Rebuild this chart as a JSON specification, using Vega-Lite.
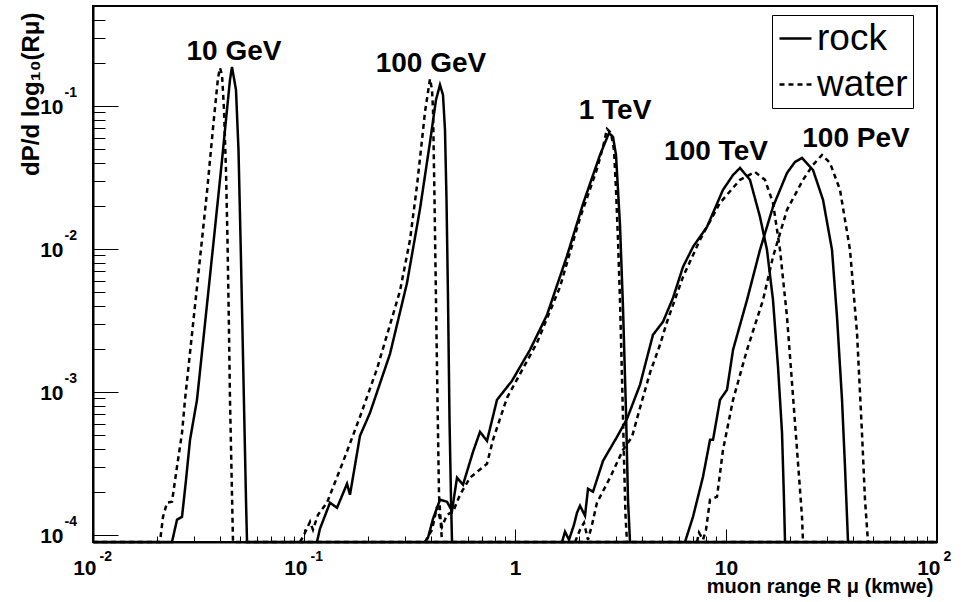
{
  "$schema": "https://vega.github.io/schema/vega-lite/v6.json",
  "width": 844,
  "height": 536,
  "autosize": {"type": "none"},
  "padding": {"left": 93, "top": 6, "right": 30, "bottom": 60},
  "background": "white",
  "datasets": {
    "curves": [
      {"energy":"10 GeV","medium":"rock","range":0.01,"dP":8.9e-5},
      {"energy":"10 GeV","medium":"rock","range":0.02368,"dP":8.9e-5},
      {"energy":"10 GeV","medium":"rock","range":0.02501,"dP":1.274e-4},
      {"energy":"10 GeV","medium":"rock","range":0.02642,"dP":1.336e-4},
      {"energy":"10 GeV","medium":"rock","range":0.0276,"dP":2.427e-4},
      {"energy":"10 GeV","medium":"rock","range":0.02883,"dP":4.613e-4},
      {"energy":"10 GeV","medium":"rock","range":0.03111,"dP":8.79e-4},
      {"energy":"10 GeV","medium":"rock","range":0.03508,"dP":4.764e-3},
      {"energy":"10 GeV","medium":"rock","range":0.03787,"dP":0.01403},
      {"energy":"10 GeV","medium":"rock","range":0.04088,"dP":0.04188},
      {"energy":"10 GeV","medium":"rock","range":0.04315,"dP":0.0938},
      {"energy":"10 GeV","medium":"rock","range":0.04459,"dP":0.1521},
      {"energy":"10 GeV","medium":"rock","range":0.04558,"dP":0.1875},
      {"energy":"10 GeV","medium":"rock","range":0.04761,"dP":0.1294},
      {"energy":"10 GeV","medium":"rock","range":0.04893,"dP":0.0492},
      {"energy":"10 GeV","medium":"rock","range":0.05028,"dP":8.375e-3},
      {"energy":"10 GeV","medium":"rock","range":0.05167,"dP":1.213e-3},
      {"energy":"10 GeV","medium":"rock","range":0.0531,"dP":1.758e-4},
      {"energy":"10 GeV","medium":"rock","range":0.0537,"dP":8.9e-5},
      {"energy":"10 GeV","medium":"rock","range":100,"dP":8.9e-5},

      {"energy":"10 GeV","medium":"water","range":0.01,"dP":8.9e-5},
      {"energy":"10 GeV","medium":"water","range":0.02077,"dP":8.9e-5},
      {"energy":"10 GeV","medium":"water","range":0.02147,"dP":1.336e-4},
      {"energy":"10 GeV","medium":"water","range":0.02243,"dP":1.675e-4},
      {"energy":"10 GeV","medium":"water","range":0.02368,"dP":1.702e-4},
      {"energy":"10 GeV","medium":"water","range":0.02501,"dP":2.992e-4},
      {"energy":"10 GeV","medium":"water","range":0.02642,"dP":5.164e-4},
      {"energy":"10 GeV","medium":"water","range":0.02729,"dP":8.79e-4},
      {"energy":"10 GeV","medium":"water","range":0.03111,"dP":5.42e-3},
      {"energy":"10 GeV","medium":"water","range":0.0347,"dP":0.02506},
      {"energy":"10 GeV","medium":"water","range":0.03705,"dP":0.07015},
      {"energy":"10 GeV","medium":"water","range":0.03828,"dP":0.1138},
      {"energy":"10 GeV","medium":"water","range":0.03912,"dP":0.157},
      {"energy":"10 GeV","medium":"water","range":0.03999,"dP":0.1845},
      {"energy":"10 GeV","medium":"water","range":0.04088,"dP":0.1648},
      {"energy":"10 GeV","medium":"water","range":0.04178,"dP":0.0938},
      {"energy":"10 GeV","medium":"water","range":0.04268,"dP":0.03565},
      {"energy":"10 GeV","medium":"water","range":0.04339,"dP":0.01156},
      {"energy":"10 GeV","medium":"water","range":0.0441,"dP":2.716e-3},
      {"energy":"10 GeV","medium":"water","range":0.04459,"dP":8.79e-4},
      {"energy":"10 GeV","medium":"water","range":0.04532,"dP":2.851e-4},
      {"energy":"10 GeV","medium":"water","range":0.04608,"dP":8.9e-5},
      {"energy":"10 GeV","medium":"water","range":100,"dP":8.9e-5},

      {"energy":"100 GeV","medium":"rock","range":0.1152,"dP":8.9e-5},
      {"energy":"100 GeV","medium":"rock","range":0.119,"dP":1.101e-4},
      {"energy":"100 GeV","medium":"rock","range":0.1328,"dP":1.675e-4},
      {"energy":"100 GeV","medium":"rock","range":0.1434,"dP":1.545e-4},
      {"energy":"100 GeV","medium":"rock","range":0.1599,"dP":2.275e-4},
      {"energy":"100 GeV","medium":"rock","range":0.1652,"dP":1.905e-4},
      {"energy":"100 GeV","medium":"rock","range":0.1842,"dP":4.92e-4},
      {"energy":"100 GeV","medium":"rock","range":0.2055,"dP":7.129e-4},
      {"energy":"100 GeV","medium":"rock","range":0.2557,"dP":1.845e-3},
      {"energy":"100 GeV","medium":"rock","range":0.3078,"dP":5.781e-3},
      {"energy":"100 GeV","medium":"rock","range":0.3547,"dP":0.01905},
      {"energy":"100 GeV","medium":"rock","range":0.3956,"dP":0.05598},
      {"energy":"100 GeV","medium":"rock","range":0.4222,"dP":0.1102},
      {"energy":"100 GeV","medium":"rock","range":0.441,"dP":0.1403},
      {"energy":"100 GeV","medium":"rock","range":0.4558,"dP":0.1194},
      {"energy":"100 GeV","medium":"rock","range":0.4658,"dP":0.06792},
      {"energy":"100 GeV","medium":"rock","range":0.4736,"dP":0.02203},
      {"energy":"100 GeV","medium":"rock","range":0.4815,"dP":4.395e-3},
      {"energy":"100 GeV","medium":"rock","range":0.4894,"dP":6.368e-4},
      {"energy":"100 GeV","medium":"rock","range":0.4975,"dP":1.758e-4},
      {"energy":"100 GeV","medium":"rock","range":0.5029,"dP":8.9e-5},

      {"energy":"100 GeV","medium":"water","range":0.09572,"dP":8.9e-5},
      {"energy":"100 GeV","medium":"water","range":0.1,"dP":1.0e-4},
      {"energy":"100 GeV","medium":"water","range":0.1068,"dP":1.233e-4},
      {"energy":"100 GeV","medium":"water","range":0.1103,"dP":1.084e-4},
      {"energy":"100 GeV","medium":"water","range":0.1165,"dP":1.38e-4},
      {"energy":"100 GeV","medium":"water","range":0.1285,"dP":1.675e-4},
      {"energy":"100 GeV","medium":"water","range":0.1531,"dP":3.236e-4},
      {"energy":"100 GeV","medium":"water","range":0.1842,"dP":6.683e-4},
      {"energy":"100 GeV","medium":"water","range":0.2218,"dP":1.449e-3},
      {"energy":"100 GeV","medium":"water","range":0.2851,"dP":5.082e-3},
      {"energy":"100 GeV","medium":"water","range":0.318,"dP":0.01156},
      {"energy":"100 GeV","medium":"water","range":0.3431,"dP":0.02761},
      {"energy":"100 GeV","medium":"water","range":0.3624,"dP":0.05781},
      {"energy":"100 GeV","medium":"water","range":0.3745,"dP":0.09078},
      {"energy":"100 GeV","medium":"water","range":0.3956,"dP":0.1545},
      {"energy":"100 GeV","medium":"water","range":0.4043,"dP":0.1294},
      {"energy":"100 GeV","medium":"water","range":0.4088,"dP":0.0938},
      {"energy":"100 GeV","medium":"water","range":0.4155,"dP":0.02203},
      {"energy":"100 GeV","medium":"water","range":0.4222,"dP":4.395e-3},
      {"energy":"100 GeV","medium":"water","range":0.4292,"dP":8.79e-4},
      {"energy":"100 GeV","medium":"water","range":0.4363,"dP":1.905e-4},
      {"energy":"100 GeV","medium":"water","range":0.4508,"dP":8.9e-5},

      {"energy":"1 TeV","medium":"rock","range":0.3745,"dP":8.9e-5},
      {"energy":"1 TeV","medium":"rock","range":0.387,"dP":9.53e-5},
      {"energy":"1 TeV","medium":"rock","range":0.4088,"dP":1.294e-4},
      {"energy":"1 TeV","medium":"rock","range":0.441,"dP":1.758e-4},
      {"energy":"1 TeV","medium":"rock","range":0.4761,"dP":1.702e-4},
      {"energy":"1 TeV","medium":"rock","range":0.5029,"dP":1.472e-4},
      {"energy":"1 TeV","medium":"rock","range":0.531,"dP":2.506e-4},
      {"energy":"1 TeV","medium":"rock","range":0.567,"dP":2.239e-4},
      {"energy":"1 TeV","medium":"rock","range":0.6324,"dP":3.802e-4},
      {"energy":"1 TeV","medium":"rock","range":0.6826,"dP":5.248e-4},
      {"energy":"1 TeV","medium":"rock","range":0.7367,"dP":4.539e-4},
      {"energy":"1 TeV","medium":"rock","range":0.8217,"dP":8.79e-4},
      {"energy":"1 TeV","medium":"rock","range":0.9678,"dP":1.194e-3},
      {"energy":"1 TeV","medium":"rock","range":1.178,"dP":1.968e-3},
      {"energy":"1 TeV","medium":"rock","range":1.418,"dP":3.451e-3},
      {"energy":"1 TeV","medium":"rock","range":1.764,"dP":8.93e-3},
      {"energy":"1 TeV","medium":"rock","range":2.101,"dP":0.02065},
      {"energy":"1 TeV","medium":"rock","range":2.528,"dP":0.04539},
      {"energy":"1 TeV","medium":"rock","range":2.79,"dP":0.06471},
      {"energy":"1 TeV","medium":"rock","range":2.914,"dP":0.06067},
      {"energy":"1 TeV","medium":"rock","range":3.011,"dP":0.04539},
      {"energy":"1 TeV","medium":"rock","range":3.077,"dP":0.02588},
      {"energy":"1 TeV","medium":"rock","range":3.145,"dP":0.01472},
      {"energy":"1 TeV","medium":"rock","range":3.25,"dP":3.864e-3},
      {"energy":"1 TeV","medium":"rock","range":3.358,"dP":7.244e-4},
      {"energy":"1 TeV","medium":"rock","range":3.432,"dP":1.758e-4},
      {"energy":"1 TeV","medium":"rock","range":3.508,"dP":8.9e-5},

      {"energy":"1 TeV","medium":"water","range":0.3745,"dP":8.9e-5},
      {"energy":"1 TeV","medium":"water","range":0.4043,"dP":1.084e-4},
      {"energy":"1 TeV","medium":"water","range":0.4269,"dP":1.57e-4},
      {"energy":"1 TeV","medium":"water","range":0.4508,"dP":1.138e-4},
      {"energy":"1 TeV","medium":"water","range":0.4761,"dP":1.38e-4},
      {"energy":"1 TeV","medium":"water","range":0.5085,"dP":1.449e-4},
      {"energy":"1 TeV","medium":"water","range":0.5487,"dP":1.905e-4},
      {"energy":"1 TeV","medium":"water","range":0.612,"dP":2.506e-4},
      {"energy":"1 TeV","medium":"water","range":0.7367,"dP":3.141e-4},
      {"energy":"1 TeV","medium":"water","range":0.7866,"dP":4.613e-4},
      {"energy":"1 TeV","medium":"water","range":0.9165,"dP":9.08e-4},
      {"energy":"1 TeV","medium":"water","range":1.271,"dP":2.203e-3},
      {"energy":"1 TeV","medium":"water","range":1.634,"dP":5.42e-3},
      {"energy":"1 TeV","medium":"water","range":2.033,"dP":0.01648},
      {"energy":"1 TeV","medium":"water","range":2.446,"dP":0.03624},
      {"energy":"1 TeV","medium":"water","range":2.613,"dP":0.05164},
      {"energy":"1 TeV","medium":"water","range":2.729,"dP":0.06902},
      {"energy":"1 TeV","medium":"water","range":2.851,"dP":0.06471},
      {"energy":"1 TeV","medium":"water","range":2.946,"dP":0.0492},
      {"energy":"1 TeV","medium":"water","range":3.011,"dP":0.02588},
      {"energy":"1 TeV","medium":"water","range":3.077,"dP":0.01156},
      {"energy":"1 TeV","medium":"water","range":3.145,"dP":4.395e-3},
      {"energy":"1 TeV","medium":"water","range":3.215,"dP":1.253e-3},
      {"energy":"1 TeV","medium":"water","range":3.286,"dP":3.342e-4},
      {"energy":"1 TeV","medium":"water","range":3.34,"dP":1.358e-4},
      {"energy":"1 TeV","medium":"water","range":3.395,"dP":8.9e-5},

      {"energy":"100 TeV","medium":"rock","range":1.67,"dP":8.9e-5},
      {"energy":"100 TeV","medium":"rock","range":1.726,"dP":1.05e-4},
      {"energy":"100 TeV","medium":"rock","range":1.803,"dP":9.23e-5},
      {"energy":"100 TeV","medium":"rock","range":1.904,"dP":1.175e-4},
      {"energy":"100 TeV","medium":"rock","range":1.967,"dP":1.426e-4},
      {"energy":"100 TeV","medium":"rock","range":2.033,"dP":1.596e-4},
      {"energy":"100 TeV","medium":"rock","range":2.147,"dP":1.358e-4},
      {"energy":"100 TeV","medium":"rock","range":2.218,"dP":2.099e-4},
      {"energy":"100 TeV","medium":"rock","range":2.343,"dP":2.0e-4},
      {"energy":"100 TeV","medium":"rock","range":2.613,"dP":3.289e-4},
      {"energy":"100 TeV","medium":"rock","range":3.044,"dP":4.842e-4},
      {"energy":"100 TeV","medium":"rock","range":3.395,"dP":6.471e-4},
      {"energy":"100 TeV","medium":"rock","range":3.912,"dP":1.119e-3},
      {"energy":"100 TeV","medium":"rock","range":4.222,"dP":1.73e-3},
      {"energy":"100 TeV","medium":"rock","range":4.508,"dP":2.506e-3},
      {"energy":"100 TeV","medium":"rock","range":5.028,"dP":3.09e-3},
      {"energy":"100 TeV","medium":"rock","range":5.609,"dP":4.539e-3},
      {"energy":"100 TeV","medium":"rock","range":6.255,"dP":7.482e-3},
      {"energy":"100 TeV","medium":"rock","range":6.977,"dP":0.01033},
      {"energy":"100 TeV","medium":"rock","range":8.128,"dP":0.01426},
      {"energy":"100 TeV","medium":"rock","range":9.678,"dP":0.02588},
      {"energy":"100 TeV","medium":"rock","range":10.8,"dP":0.03289},
      {"energy":"100 TeV","medium":"rock","range":11.65,"dP":0.03681},
      {"energy":"100 TeV","medium":"rock","range":12.99,"dP":0.03041},
      {"energy":"100 TeV","medium":"rock","range":14.49,"dP":0.01675},
      {"energy":"100 TeV","medium":"rock","range":15.64,"dP":9.84e-3},
      {"energy":"100 TeV","medium":"rock","range":16.7,"dP":4.395e-3},
      {"energy":"100 TeV","medium":"rock","range":17.64,"dP":1.496e-3},
      {"energy":"100 TeV","medium":"rock","range":18.43,"dP":5.164e-4},
      {"energy":"100 TeV","medium":"rock","range":18.83,"dP":1.758e-4},
      {"energy":"100 TeV","medium":"rock","range":19.04,"dP":8.9e-5},

      {"energy":"100 TeV","medium":"water","range":1.925,"dP":8.9e-5},
      {"energy":"100 TeV","medium":"water","range":2.033,"dP":1.084e-4},
      {"energy":"100 TeV","medium":"water","range":2.123,"dP":1.213e-4},
      {"energy":"100 TeV","medium":"water","range":2.218,"dP":9.23e-5},
      {"energy":"100 TeV","medium":"water","range":2.317,"dP":1.175e-4},
      {"energy":"100 TeV","medium":"water","range":2.446,"dP":1.675e-4},
      {"energy":"100 TeV","medium":"water","range":2.82,"dP":2.506e-4},
      {"energy":"100 TeV","medium":"water","range":3.25,"dP":3.926e-4},
      {"energy":"100 TeV","medium":"water","range":3.585,"dP":4.842e-4},
      {"energy":"100 TeV","medium":"water","range":3.912,"dP":7.727e-4},
      {"energy":"100 TeV","medium":"water","range":4.363,"dP":1.358e-3},
      {"energy":"100 TeV","medium":"water","range":4.866,"dP":2.133e-3},
      {"energy":"100 TeV","medium":"water","range":5.253,"dP":3.09e-3},
      {"energy":"100 TeV","medium":"water","range":6.255,"dP":6.368e-3},
      {"energy":"100 TeV","medium":"water","range":7.53,"dP":0.01156},
      {"energy":"100 TeV","medium":"water","range":9.368,"dP":0.02099},
      {"energy":"100 TeV","medium":"water","range":11.65,"dP":0.03041},
      {"energy":"100 TeV","medium":"water","range":13.72,"dP":0.03451},
      {"energy":"100 TeV","medium":"water","range":15.3,"dP":0.03041},
      {"energy":"100 TeV","medium":"water","range":16.7,"dP":0.02099},
      {"energy":"100 TeV","medium":"water","range":18.03,"dP":9.84e-3},
      {"energy":"100 TeV","medium":"water","range":19.46,"dP":3.342e-3},
      {"energy":"100 TeV","medium":"water","range":20.55,"dP":1.156e-3},
      {"energy":"100 TeV","medium":"water","range":21.71,"dP":3.926e-4},
      {"energy":"100 TeV","medium":"water","range":22.92,"dP":1.336e-4},
      {"energy":"100 TeV","medium":"water","range":23.17,"dP":8.9e-5},

      {"energy":"100 PeV","medium":"rock","range":6.393,"dP":8.9e-5},
      {"energy":"100 PeV","medium":"rock","range":6.977,"dP":1.336e-4},
      {"energy":"100 PeV","medium":"rock","range":7.78,"dP":2.547e-4},
      {"energy":"100 PeV","medium":"rock","range":8.4,"dP":4.613e-4},
      {"energy":"100 PeV","medium":"rock","range":8.679,"dP":4.613e-4},
      {"energy":"100 PeV","medium":"rock","range":9.368,"dP":8.79e-4},
      {"energy":"100 PeV","medium":"rock","range":10.11,"dP":1.033e-3},
      {"energy":"100 PeV","medium":"rock","range":10.8,"dP":1.968e-3},
      {"energy":"100 PeV","medium":"rock","range":12.58,"dP":4.395e-3},
      {"energy":"100 PeV","medium":"rock","range":14.49,"dP":9.84e-3},
      {"energy":"100 PeV","medium":"rock","range":16.7,"dP":0.01968},
      {"energy":"100 PeV","medium":"rock","range":19.46,"dP":0.03396},
      {"energy":"100 PeV","medium":"rock","range":21.23,"dP":0.04055},
      {"energy":"100 PeV","medium":"rock","range":22.92,"dP":0.04325},
      {"energy":"100 PeV","medium":"rock","range":25.84,"dP":0.03565},
      {"energy":"100 PeV","medium":"rock","range":28.83,"dP":0.02203},
      {"energy":"100 PeV","medium":"rock","range":31.8,"dP":9.84e-3},
      {"energy":"100 PeV","medium":"rock","range":33.58,"dP":3.342e-3},
      {"energy":"100 PeV","medium":"rock","range":35.47,"dP":8.79e-4},
      {"energy":"100 PeV","medium":"rock","range":36.64,"dP":2.992e-4},
      {"energy":"100 PeV","medium":"rock","range":37.87,"dP":8.9e-5},

      {"energy":"100 PeV","medium":"water","range":7.288,"dP":8.9e-5},
      {"energy":"100 PeV","medium":"water","range":7.447,"dP":1.033e-4},
      {"energy":"100 PeV","medium":"water","range":7.78,"dP":9.23e-5},
      {"energy":"100 PeV","medium":"water","range":8.039,"dP":1.084e-4},
      {"energy":"100 PeV","medium":"water","range":8.4,"dP":1.758e-4},
      {"energy":"100 PeV","medium":"water","range":9.066,"dP":1.845e-4},
      {"energy":"100 PeV","medium":"water","range":9.678,"dP":3.926e-4},
      {"energy":"100 PeV","medium":"water","range":10.8,"dP":8.79e-4},
      {"energy":"100 PeV","medium":"water","range":12.58,"dP":1.968e-3},
      {"energy":"100 PeV","medium":"water","range":14.98,"dP":4.395e-3},
      {"energy":"100 PeV","medium":"water","range":16.7,"dP":8.79e-3},
      {"energy":"100 PeV","medium":"water","range":19.46,"dP":0.01875},
      {"energy":"100 PeV","medium":"water","range":23.17,"dP":0.03041},
      {"energy":"100 PeV","medium":"water","range":25.84,"dP":0.03864},
      {"energy":"100 PeV","medium":"water","range":28.51,"dP":0.04539},
      {"energy":"100 PeV","medium":"water","range":31.11,"dP":0.0399},
      {"energy":"100 PeV","medium":"water","range":34.7,"dP":0.02588},
      {"energy":"100 PeV","medium":"water","range":38.7,"dP":9.84e-3},
      {"energy":"100 PeV","medium":"water","range":41.77,"dP":2.588e-3},
      {"energy":"100 PeV","medium":"water","range":44.1,"dP":5.164e-4},
      {"energy":"100 PeV","medium":"water","range":45.58,"dP":1.758e-4},
      {"energy":"100 PeV","medium":"water","range":47.1,"dP":8.9e-5}
    ],
    "labels": [
      {"label":"10 GeV","range":0.04658,"dP":0.2098},
      {"label":"100 GeV","range":0.3998,"dP":0.1729},
      {"label":"1 TeV","range":2.978,"dP":0.0811},
      {"label":"100 TeV","range":8.966,"dP":0.04193},
      {"label":"100 PeV","range":41.31,"dP":0.05167}
    ]
  },
  "layer": [
    {
      "data": {"name": "curves"},
      "transform": [{"filter": "datum.medium == 'rock'"}],
      "mark": {"type": "line", "color": "black", "strokeWidth": 2.5},
      "encoding": {
        "x": {
          "field": "range", "type": "quantitative",
          "scale": {"type": "log", "domain": [0.01, 100], "nice": false},
          "axis": {
            "orient": "bottom",
            "values": [0.01, 0.1, 1, 10, 100],
            "labelExpr": "datum.value == 1 ? '1' : '10'",
            "labelAlign": {"condition": {"test": "datum.value == 1 || datum.value == 10", "value": "center"}, "value": "right"},
            "labelOffset": {"condition": {"test": "datum.value == 1 || datum.value == 10", "value": 0}, "value": 3},
            "labelBaseline": "middle",
            "labelFontSize": 21,
            "labelPadding": 39,
            "labelFlush": false,
            "labelOverlap": false,
            "tickSize": -13,
            "tickWidth": 1,
            "domainWidth": 2,
            "title": "muon range R μ (kmwe)",
            "titleFontSize": 20,
            "titleX": 840,
            "titleY": 50,
            "titleAlign": "right",
            "titleBaseline": "alphabetic"
          }
        },
        "y": {
          "field": "dP", "type": "quantitative",
          "scale": {"type": "log", "domain": [8.9e-5, 0.5], "nice": false},
          "axis": {
            "orient": "left",
            "values": [0.0001, 0.001, 0.01, 0.1],
            "labelExpr": "'10'",
            "labelAlign": "right",
            "labelBaseline": "middle",
            "labelOffset": 2,
            "labelFontSize": 21,
            "labelPadding": 55,
            "labelFlush": false,
            "labelOverlap": false,
            "tickSize": -25,
            "tickWidth": 1,
            "domainWidth": 2,
            "title": "dP/d log₁₀(Rμ)",
            "titleFontSize": 24,
            "titleAngle": 270,
            "titleX": -62,
            "titleY": 6,
            "titleAlign": "right",
            "titleBaseline": "middle"
          }
        },
        "detail": {"field": "energy"},
        "strokeDash": {
          "field": "medium", "type": "nominal",
          "scale": {"domain": ["rock", "water"], "range": [[1, 0], [5, 4]]},
          "legend": {
            "orient": "none",
            "legendX": 679,
            "legendY": 9,
            "title": "\u2003",
            "titleOrient": "right",
            "titleFontSize": 24,
            "titlePadding": 0,
            "strokeColor": "black",
            "fillColor": "white",
            "padding": 5,
            "labelFont": "Liberation Sans",
            "labelFontSize": 37,
            "labelFontWeight": "normal",
            "labelColor": "black",
            "labelOffset": 3,
            "labelLimit": 0,
            "symbolType": "stroke",
            "symbolSize": 1024,
            "symbolStrokeWidth": 2.5,
            "symbolStrokeColor": "black",
            "rowPadding": 8
          }
        }
      }
    },
    {
      "data": {"name": "curves"},
      "transform": [{"filter": "datum.medium == 'water'"}],
      "mark": {"type": "line", "color": "black", "strokeWidth": 2.5},
      "encoding": {
        "x": {
          "field": "range", "type": "quantitative",
          "scale": {"type": "log", "domain": [0.01, 100], "nice": false},
          "axis": {
            "orient": "bottom",
            "values": [0.02,0.03,0.04,0.05,0.06,0.07,0.08,0.09,0.2,0.3,0.4,0.5,0.6,0.7,0.8,0.9,2,3,4,5,6,7,8,9,20,30,40,50,60,70,80,90],
            "labels": false,
            "domain": false,
            "tickSize": -6,
            "tickWidth": 1,
            "title": null
          }
        },
        "y": {
          "field": "dP", "type": "quantitative",
          "scale": {"type": "log", "domain": [8.9e-5, 0.5], "nice": false},
          "axis": {
            "orient": "left",
            "values": [0.0002,0.0003,0.0004,0.0005,0.0006,0.0007,0.0008,0.0009,0.002,0.003,0.004,0.005,0.006,0.007,0.008,0.009,0.02,0.03,0.04,0.05,0.06,0.07,0.08,0.09,0.2,0.3,0.4],
            "labels": false,
            "domain": false,
            "tickSize": -12,
            "tickWidth": 1,
            "title": null
          }
        },
        "detail": {"field": "energy"},
        "strokeDash": {
          "field": "medium", "type": "nominal",
          "scale": {"domain": ["rock", "water"], "range": [[1, 0], [5, 4]]}
        }
      }
    },
    {
      "data": {"name": "labels"},
      "mark": {"type": "text", "font": "Liberation Sans", "fontSize": 28, "fontWeight": "bold", "align": "center", "baseline": "alphabetic", "color": "black"},
      "encoding": {
        "x": {
          "field": "range", "type": "quantitative",
          "scale": {"type": "log", "domain": [0.01, 100], "nice": false},
          "axis": {
            "orient": "bottom",
            "values": [0.01, 0.1, 100],
            "labelExpr": "datum.value < 0.05 ? '-2' : datum.value < 1 ? '-1' : '2'",
            "ticks": false,
            "domain": false,
            "labelAlign": "left",
            "labelOffset": 6,
            "labelBaseline": "middle",
            "labelPadding": 14,
            "labelFontSize": 14,
            "labelFlush": false,
            "labelOverlap": false,
            "title": null
          }
        },
        "y": {
          "field": "dP", "type": "quantitative",
          "scale": {"type": "log", "domain": [8.9e-5, 0.5], "nice": false},
          "axis": {
            "orient": "left",
            "values": [0.0001, 0.001, 0.01, 0.1],
            "labelExpr": "datum.value < 0.0005 ? '-4' : datum.value < 0.005 ? '-3' : datum.value < 0.05 ? '-2' : '-1'",
            "ticks": false,
            "domain": false,
            "labelAlign": "left",
            "labelPadding": 29,
            "labelOffset": -13,
            "labelBaseline": "middle",
            "labelFontSize": 14,
            "labelFlush": false,
            "labelOverlap": false,
            "title": null
          }
        },
        "text": {"field": "label"}
      }
    }
  ],
  "resolve": {"axis": {"x": "independent", "y": "independent"}},
  "config": {
    "view": {"stroke": "black", "strokeWidth": 2, "fill": "white"},
    "axis": {
      "grid": false,
      "labelFont": "Liberation Sans",
      "titleFont": "Liberation Sans",
      "labelFontWeight": "bold",
      "titleFontWeight": "bold",
      "labelColor": "black",
      "titleColor": "black",
      "tickColor": "black",
      "domainColor": "black"
    }
  }
}
